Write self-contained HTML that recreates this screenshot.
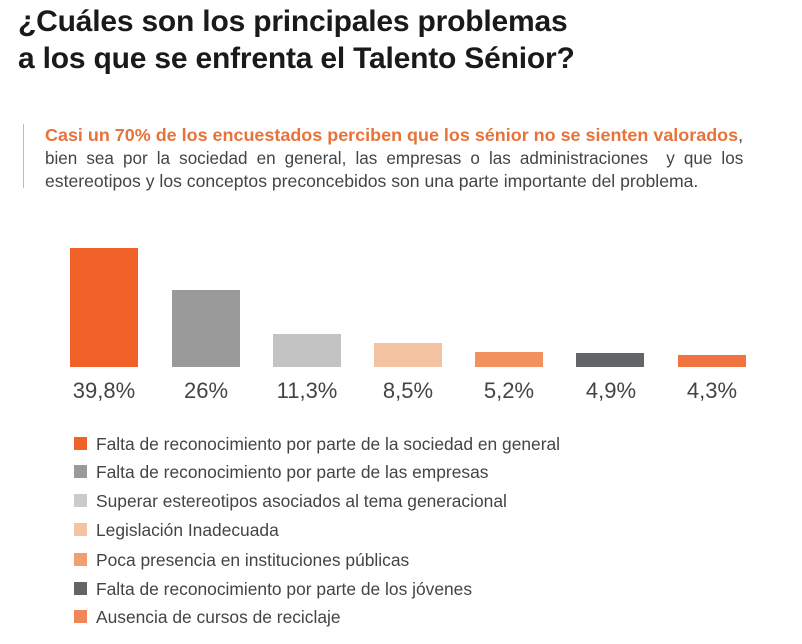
<!DOCTYPE html>
<html><head><meta charset="utf-8"><style>
body{margin:0;width:802px;height:644px;background:#fff;font-family:"Liberation Sans",sans-serif;position:relative;overflow:hidden}
.t{position:absolute;left:18px;top:3px;font-size:30px;font-weight:bold;color:#1a1a1a;line-height:37px;letter-spacing:-0.2px}
.vl{position:absolute;left:23px;top:124px;width:1px;height:64px;background:#bbb}
.p{position:absolute;left:45px;top:124px;font-size:17.6px;line-height:23px;color:#444;width:700px}
.p div{white-space:nowrap;transform:scaleX(0.97);transform-origin:left}
.p b{color:#e8733a}
.bar{position:absolute;bottom:277px;width:68px}
.lab{position:absolute;top:378px;font-size:22px;color:#444;width:100px;text-align:center}
.lg{position:absolute;left:74px;font-size:17.4px;color:#444}
.lg i{position:absolute;left:0;top:0;width:13px;height:13px}
.lg span{position:absolute;left:22px;top:-3px;white-space:nowrap}
</style></head><body>
<div class="t">¿Cuáles son los principales problemas<br>a los que se enfrenta el Talento Sénior?</div>
<div class="vl"></div>
<div class="p">
<div style="transform:scaleX(1.02)"><b>Casi un 70% de los encuestados perciben que los sénior no se sienten valorados</b>,</div>
<div style="word-spacing:4.5px">bien sea por la sociedad en general, las empresas o las administraciones &nbsp;y que los</div>
<div style="transform:scaleX(1.0)">estereotipos y los conceptos preconcebidos son una parte importante del problema.</div>
</div>
<div class="bar" style="left:70px;top:248px;background:#f0622a"></div>
<div class="bar" style="left:172px;top:290px;background:#9a9a9a"></div>
<div class="bar" style="left:273px;top:334px;background:#c3c3c3"></div>
<div class="bar" style="left:374px;top:343px;background:#f4c3a1"></div>
<div class="bar" style="left:475px;top:352px;background:#f0915e"></div>
<div class="bar" style="left:576px;top:353px;background:#626468"></div>
<div class="bar" style="left:678px;top:355px;background:#f07440"></div>
<div class="lab" style="left:54px">39,8%</div>
<div class="lab" style="left:156px">26%</div>
<div class="lab" style="left:257px">11,3%</div>
<div class="lab" style="left:358px">8,5%</div>
<div class="lab" style="left:459px">5,2%</div>
<div class="lab" style="left:561px">4,9%</div>
<div class="lab" style="left:662px">4,3%</div>
<div class="lg" style="top:437px"><i style="background:#f0622a"></i><span>Falta de reconocimiento por parte de la sociedad en general</span></div>
<div class="lg" style="top:465px"><i style="background:#9a9a9a"></i><span>Falta de reconocimiento por parte de las empresas</span></div>
<div class="lg" style="top:494px"><i style="background:#cbcbcb"></i><span>Superar estereotipos asociados al tema generacional</span></div>
<div class="lg" style="top:523px"><i style="background:#f4c3a1"></i><span>Legislación Inadecuada</span></div>
<div class="lg" style="top:553px"><i style="background:#f0a070"></i><span>Poca presencia en instituciones públicas</span></div>
<div class="lg" style="top:582px"><i style="background:#626468"></i><span>Falta de reconocimiento por parte de los jóvenes</span></div>
<div class="lg" style="top:610px"><i style="background:#f0865a"></i><span>Ausencia de cursos de reciclaje</span></div>
</body></html>
